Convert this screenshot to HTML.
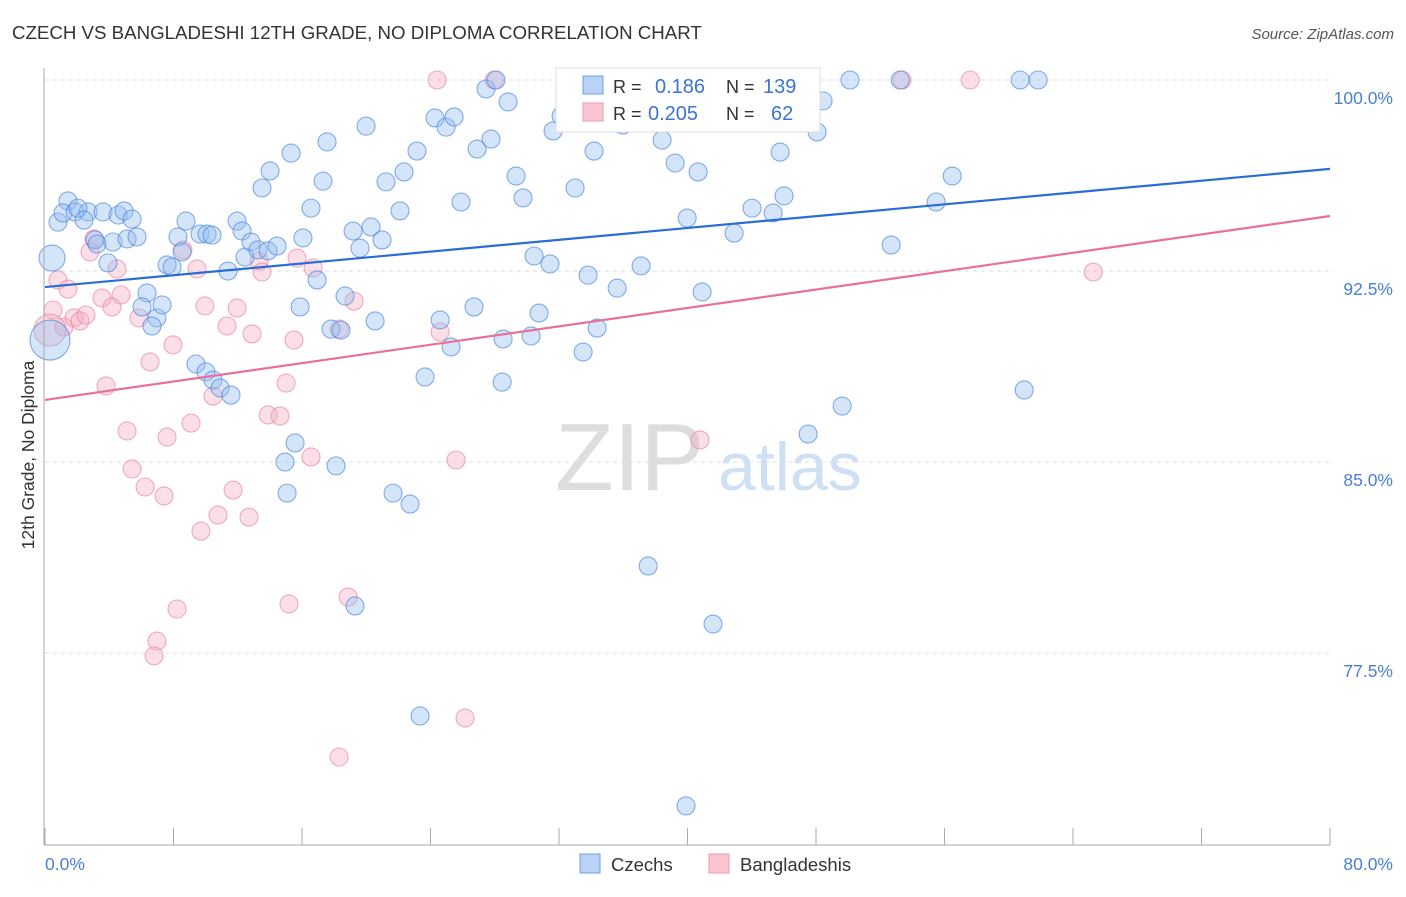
<!DOCTYPE html>
<html><head><meta charset="utf-8"><style>
body{margin:0;background:#fff;font-family:"Liberation Sans",sans-serif}
svg text{font-family:"Liberation Sans",sans-serif}
</style></head><body>
<svg id="chart" width="1406" height="892" xmlns="http://www.w3.org/2000/svg">
<text x="12" y="39" font-size="18.7" fill="#333">CZECH VS BANGLADESHI 12TH GRADE, NO DIPLOMA CORRELATION CHART</text>
<text x="1394" y="39" font-size="15" fill="#555" text-anchor="end" font-style="italic">Source: ZipAtlas.com</text>
<g id="grid"></g>
<g>
<text x="555" y="490" font-size="96" fill="#ddd" font-family="Liberation Serif">ZIP</text>
<text x="718" y="490" font-size="68" fill="#cfe0f5">atlas</text>
</g>
<g id="pts"></g>
<g id="lines"></g>
<line x1="44" y1="68" x2="44" y2="845" stroke="#aaa"/>
<line x1="44" y1="845" x2="1330" y2="845" stroke="#aaa"/>
<g id="ticks"></g>
<text transform="translate(34,455) rotate(-90)" font-size="17.5" fill="#333" text-anchor="middle">12th Grade, No Diploma</text>
<text x="45" y="870" font-size="17.5" fill="#4a7fd6">0.0%</text>
<text x="1393" y="870" font-size="17.5" fill="#4a7fd6" text-anchor="end">80.0%</text>
<g>
<rect x="556" y="68" width="264" height="64" fill="#fff" stroke="#ddd"/>
<rect x="583" y="76" width="20" height="18" fill="#b9d2f5" stroke="#6f9ee0"/>
<rect x="583" y="103" width="20" height="18" fill="#f9c5d3" stroke="#ea9ab2"/>
<text x="613" y="93" font-size="18" fill="#333">R = </text><text x="655" y="93" font-size="20" fill="#3b74d4">0.186</text>
<text x="726" y="93" font-size="18" fill="#333">N = </text><text x="763" y="93" font-size="20" fill="#3b74d4">139</text>
<text x="613" y="120" font-size="18" fill="#333">R = </text><text x="648" y="120" font-size="20" fill="#3b74d4">0.205</text>
<text x="726" y="120" font-size="18" fill="#333">N = </text><text x="771" y="120" font-size="20" fill="#3b74d4">62</text>
</g>
<g>
<rect x="580" y="854" width="20" height="19" fill="#b9d2f5" stroke="#6f9ee0"/>
<text x="611" y="871" font-size="18.5" fill="#333">Czechs</text>
<rect x="709" y="854" width="20" height="19" fill="#f9c5d3" stroke="#ea9ab2"/>
<text x="740" y="871" font-size="18.5" fill="#333">Bangladeshis</text>
</g>
</svg>
<script>
const czX=[1.43,0.81,1.12,1.87,2.68,2.05,2.43,3.61,4.55,4.92,5.42,3.11,3.24,4.23,5.11,5.73,3.92,6.35,6.04,6.97,6.66,7.29,7.60,7.91,8.28,8.78,8.53,9.65,10.09,10.40,11.39,11.96,12.27,12.45,12.83,13.26,13.89,14.45,14.01,13.51,15.32,16.06,16.56,15.88,16.94,17.31,17.56,17.81,18.43,18.68,19.18,19.61,19.99,20.30,20.55,20.98,21.23,22.10,22.35,23.16,23.66,24.28,24.60,24.97,25.28,25.47,25.90,26.71,26.90,27.46,27.77,28.08,28.83,28.52,28.46,29.33,29.76,30.26,30.45,30.76,31.44,31.63,32.13,33.00,33.50,33.81,34.18,34.37,35.62,35.99,36.05,37.11,37.55,38.42,39.23,39.91,39.98,40.66,40.91,41.59,42.03,42.90,44.02,44.33,45.33,45.77,46.01,47.51,48.07,48.44,49.63,50.12,52.68,53.24,55.48,56.48,60.71,60.96,61.83,14.94,15.57,15.07,18.12,19.30,21.67,22.73,23.35,9.40,10.02,10.46,10.90,11.58,0.44,0.31];
const czY=[95.25,94.42,94.78,94.82,94.82,94.97,94.50,94.82,94.70,94.86,94.54,93.72,93.56,93.64,93.76,93.84,92.82,91.64,91.09,90.66,90.34,91.17,92.74,92.66,93.84,94.46,93.25,93.95,93.95,93.91,92.50,94.46,94.07,93.05,93.64,93.33,93.29,93.48,96.43,95.76,97.13,93.80,94.97,91.09,92.15,96.03,97.57,90.22,90.18,91.52,94.07,93.40,98.19,94.23,90.54,93.72,96.00,94.86,96.39,97.21,88.34,98.51,90.58,98.15,89.52,98.55,95.21,91.09,97.29,99.65,97.68,100.0,99.14,89.83,88.14,96.23,95.37,89.95,93.09,90.85,92.78,98.00,98.59,95.76,89.32,92.34,97.21,90.26,91.83,98.23,100.0,92.70,80.92,97.64,96.74,71.50,94.58,96.39,91.68,78.64,99.14,93.99,94.97,100.0,94.78,97.17,95.45,86.10,97.96,99.18,87.20,100.0,93.52,100.0,95.21,96.23,100.0,87.83,100.0,85.00,85.75,83.78,84.85,79.35,83.78,83.35,75.03,88.85,88.54,88.22,87.91,87.63,93.01,89.79];
const bdX=[0.50,0.81,1.43,1.18,1.81,2.18,2.55,2.80,3.05,3.55,3.80,4.17,4.48,4.73,5.11,5.42,5.85,6.23,6.54,7.41,7.60,7.97,8.59,9.09,9.46,9.71,9.96,10.46,10.77,11.33,11.71,11.96,12.70,12.89,13.33,13.51,13.89,14.63,15.01,15.19,15.50,15.69,16.56,16.69,18.31,18.31,18.87,19.24,24.41,24.60,25.59,26.15,27.96,40.78,53.36,57.60,65.26,6.97,6.79,8.22,0.31];
const bdY=[90.97,92.15,91.79,90.30,90.66,90.54,90.77,93.25,93.76,91.44,87.99,91.09,92.58,91.56,86.22,84.73,90.66,84.02,88.93,83.67,85.98,89.60,93.33,86.53,92.58,82.29,91.13,87.59,82.92,90.34,83.90,91.05,82.84,90.03,92.89,92.46,86.85,86.81,88.10,79.43,89.79,93.01,85.20,92.62,90.22,73.42,79.70,91.32,100.0,90.11,85.08,74.95,100.0,85.87,100.0,100.0,92.46,77.97,77.39,79.23,90.18];
const trendCz=[91.87,96.51];
const trendBd=[87.44,94.66];
const yTicks=[100,92.5,85,77.5];
const yTickLabels=["100.0%","92.5%","85.0%","77.5%"];
const xTicks=[0,8,16,24,32,40,48,56,64,72,80];

const NS="http://www.w3.org/2000/svg";
const xs=v=>45+v*16.0625;
const ys=v=>80+(100-v)*25.47;
function mk(tag,attrs,parent){const e=document.createElementNS(NS,tag);for(const k in attrs)e.setAttribute(k,attrs[k]);parent.appendChild(e);return e;}
const grid=document.getElementById('grid'),pts=document.getElementById('pts'),lines=document.getElementById('lines'),ticks=document.getElementById('ticks');
yTicks.forEach((t,i)=>{
  const l=mk('line',{x1:45,x2:1330,y1:ys(t),y2:ys(t),stroke:'#ddd','stroke-dasharray':'4,4'},grid);
  
  
  const tx=mk('text',{x:1393,y:ys(t)+24,'font-size':17.5,fill:'#4a7fd6','text-anchor':'end'},grid);
  tx.textContent=yTickLabels[i];
  
  
});
xTicks.forEach(t=>{
  const l=mk('line',{x1:xs(t),x2:xs(t),y1:828,y2:845,stroke:'#aaa'},ticks);
  
  
});
bdX.forEach((x,i)=>{
  const c=mk('circle',{cx:xs(x),cy:ys(bdY[i]),r:i===bdX.length-1?16:9,fill:'rgba(245,170,192,0.38)',stroke:'rgba(232,130,160,0.65)','stroke-width':1.1},pts);
  
  
});
czX.forEach((x,i)=>{
  let r=9;
  if(i===czX.length-2)r=13;
  if(i===czX.length-1)r=20;
  const c=mk('circle',{cx:xs(x),cy:ys(czY[i]),r:r,fill:'rgba(150,190,240,0.4)',stroke:'rgba(70,130,220,0.65)','stroke-width':1.1},pts);
  
  
});
const l1=mk('line',{x1:xs(0),y1:ys(trendCz[0]),x2:xs(80),y2:ys(trendCz[1]),stroke:'#2a6dd4','stroke-width':2.2},lines);


const l2=mk('line',{x1:xs(0),y1:ys(trendBd[0]),x2:xs(80),y2:ys(trendBd[1]),stroke:'#e8709a','stroke-width':2.2},lines);


</script>
</body></html>
